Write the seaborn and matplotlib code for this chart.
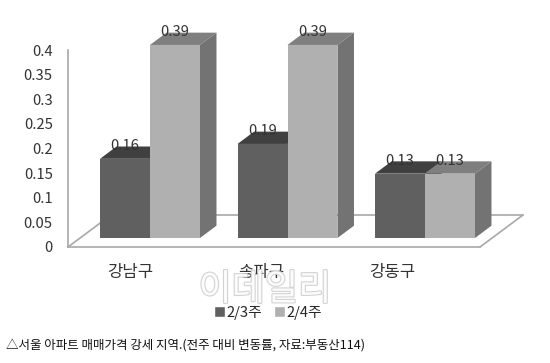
import pandas as pd
import matplotlib
matplotlib.use('Agg')
import matplotlib.pyplot as plt
import matplotlib.patheffects as pe
from matplotlib.patches import Polygon
import seaborn as sns

districts = ['강남구', '송파구', '강동구']
week_names = ['2/3주', '2/4주']
week3 = [0.16, 0.19, 0.13]
week4 = [0.39, 0.39, 0.13]
y_ticks = [0, 0.05, 0.1, 0.15, 0.2, 0.25, 0.3, 0.35, 0.4]
y_tick_labels = ['0', '0.05', '0.1', '0.15', '0.2', '0.25', '0.3', '0.35', '0.4']
caption = '△서울 아파트 매매가격 강세 지역.(전주 대비 변동률, 자료:부동산114)'

df = pd.DataFrame({
    'district': districts * 2,
    'week': [week_names[0]] * 3 + [week_names[1]] * 3,
    'value': week3 + week4,
})

sns.set_theme(style='white')
plt.rcParams['font.family'] = ['Noto Sans CJK KR', 'DejaVu Sans']

W, H = 550, 363
fig = plt.figure(figsize=(W / 100, H / 100), dpi=100, facecolor='white')

GREY = '#a8a8a8'
TEXT = '#333333'

# wall + floor, holds the axis ticks
ax_wall = fig.add_axes([68 / W, 1 - 247 / H, (480 - 68) / W, (247 - 50) / H], facecolor='none')
ax_wall.set_ylim(0, 0.4)
ax_wall.set_xlim((68 - 130) / 131, (480 - 130) / 131)
ax_wall.set_xticks(range(3), districts)
ax_wall.set_yticks(y_ticks, y_tick_labels)
ax_wall.tick_params(axis='y', length=0, pad=11, labelsize=10.6, labelcolor=TEXT)
ax_wall.tick_params(axis='x', length=0, pad=12, labelsize=12, labelcolor=TEXT)
sns.despine(ax=ax_wall)
for side in ['left', 'bottom']:
    ax_wall.spines[side].set_color(GREY)
    ax_wall.spines[side].set_linewidth(1.2)

# floor edges in pixels, behind everything
floor = [((68, 247), (111, 215)), ((111, 215), (523, 215)), ((523, 215), (480, 247))]
for a, b in floor:
    fig.add_artist(plt.Line2D([a[0] / W, b[0] / W], [1 - a[1] / H, 1 - b[1] / H],
                              color=GREY, lw=1.2, zorder=-1))

# bars in their own transparent axes, shifted back from the wall
ax = fig.add_axes([0, 0, 1, 1], facecolor='none')
sns.barplot(data=df, x='district', y='value', hue='week', ax=ax,
            palette={week_names[0]: '#606060', week_names[1]: '#b0b0b0'},
            width=0.727, gap=0, saturation=1, errorbar=None)
ax.set_xlim(-150 / 137.5, (W - 150) / 137.5)
ax.set_ylim((238 - H) / 495, 238 / 495)

dx = 16.5 / 137.5
dy = 12.3 / 495
top_cols = ['#404040', '#7f7f7f']
side_cols = ['#4a4a4a', '#737373']
for c, cont in enumerate(ax.containers):
    for bar in cont:
        x0, w, h = bar.get_x(), bar.get_width(), bar.get_height()
        bar.set_edgecolor('none')
        bar.set_zorder(3 + c)
        ax.add_patch(Polygon([(x0, h), (x0 + w, h), (x0 + w + dx, h + dy), (x0 + dx, h + dy)],
                             fc=top_cols[c], ec='none', zorder=2.5 + c))
        ax.add_patch(Polygon([(x0 + w, 0), (x0 + w + dx, dy), (x0 + w + dx, h + dy), (x0 + w, h)],
                             fc=side_cols[c], ec='none', zorder=2.5 + c))
    ax.bar_label(cont, fmt='%.2f', padding=4, fontsize=10.6, color=TEXT, zorder=8)

sns.move_legend(ax, 'center', bbox_to_anchor=(268 / W, 1 - 313 / H), ncol=2, title=None,
                frameon=False, fontsize=10.6, handlelength=0.75, handleheight=0.75,
                handletextpad=0.1, columnspacing=0.8)
ax.axis('off')

fig.text(6 / W, 1 - 345 / H, caption, fontsize=9, color='#111111', va='center', ha='left')

# watermark
fig.text(265 / W, 1 - 290 / H, '이데일리', fontsize=26, color='white', ha='center', va='center',
         alpha=0.9, zorder=10,
         path_effects=[pe.withStroke(linewidth=1.6, foreground='#cfcfcf')])

fig.savefig('out.png', dpi=100)
